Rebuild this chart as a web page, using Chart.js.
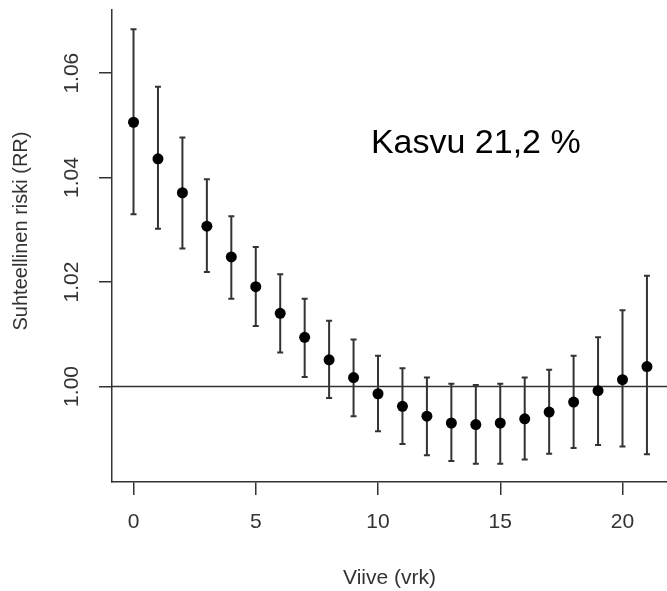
<!DOCTYPE html>
<html>
<head>
<meta charset="utf-8">
<script src="https://cdn.jsdelivr.net/npm/chart.js@4"></script>
<style>
  body { margin: 0; background: #fff; }
</style>
</head>
<body>
<canvas id="rr" width="667" height="591"></canvas>
<script>
// lag (days) and relative risk with 95% limits
const lags = [0, 1, 2, 3, 4, 5, 6, 7, 8, 9, 10, 11, 12, 13, 14, 15, 16, 17, 18, 19, 20, 21];
const rr = [1.0506, 1.0436, 1.0371, 1.0307, 1.0248, 1.0191, 1.0140, 1.0094, 1.0051, 1.0017, 0.9986,
  0.9962, 0.9943, 0.9930, 0.9927, 0.9930, 0.9938, 0.9951, 0.9970, 0.9992, 1.0013, 1.0038];
const rrLow = [1.0330, 1.0302, 1.0264, 1.0219, 1.0168, 1.0116, 1.0065, 1.0018, 0.9978, 0.9943, 0.9914,
  0.9890, 0.9868, 0.9857, 0.9852, 0.9852, 0.9860, 0.9871, 0.9882, 0.9888, 0.9885, 0.9870];
const rrHigh = [1.0684, 1.0574, 1.0477, 1.0397, 1.0326, 1.0267, 1.0215, 1.0168, 1.0126, 1.0090, 1.0059,
  1.0035, 1.0017, 1.0005, 1.0003, 1.0005, 1.0017, 1.0032, 1.0059, 1.0094, 1.0146, 1.0212];

const xTicks = [0, 5, 10, 15, 20];
const yTicks = [1.00, 1.02, 1.04, 1.06];
const xRange = [-0.88, 21.82];
const yRange = [0.9817, 1.0721];
const refLevel = 1.0;
const note = { text: 'Kasvu 21,2 %', x: 14.0, y: 1.0466 };

const FONT = "'Liberation Sans', Arial, sans-serif";
const INK = '#333';

// vertical CI bars with little caps
const errorBars = {
  id: 'errorBars',
  beforeDatasetsDraw(chart) {
    const { ctx, scales: { x, y } } = chart;
    ctx.save();
    ctx.strokeStyle = INK;
    ctx.lineWidth = 2;
    lags.forEach((lag, i) => {
      const px = x.getPixelForValue(lag);
      const top = y.getPixelForValue(rrHigh[i]);
      const bot = y.getPixelForValue(rrLow[i]);
      ctx.beginPath();
      ctx.moveTo(px, top); ctx.lineTo(px, bot);
      ctx.moveTo(px - 3, top); ctx.lineTo(px + 3, top);
      ctx.moveTo(px - 3, bot); ctx.lineTo(px + 3, bot);
      ctx.stroke();
    });
    ctx.restore();
  }
};

// y axis title and the note text
const labels = {
  id: 'labels',
  afterDraw(chart) {
    const { ctx, scales: { x, y } } = chart;
    ctx.save();
    ctx.fillStyle = INK;
    ctx.font = '20px ' + FONT;
    ctx.textAlign = 'center';
    ctx.textBaseline = 'middle';
    ctx.translate(21, 231);
    ctx.rotate(-Math.PI / 2);
    ctx.fillText('Suhteellinen riski (RR)', 0, 0);
    ctx.restore();

    ctx.save();
    ctx.fillStyle = '#000';
    ctx.font = '34px ' + FONT;
    ctx.textAlign = 'center';
    ctx.textBaseline = 'middle';
    ctx.fillText(note.text, x.getPixelForValue(note.x), y.getPixelForValue(note.y));
    ctx.restore();
  }
};

const axisBase = {
  type: 'linear',
  grid: { drawOnChartArea: false, drawTicks: true, tickLength: 13, color: INK, lineWidth: 1.5 },
  border: { display: true, color: INK, width: 1.5 }
};

new Chart(document.getElementById('rr'), {
  type: 'scatter',
  data: {
    datasets: [
      {
        data: lags.map((l, i) => ({ x: l, y: rr[i] })),
        pointStyle: 'circle',
        pointRadius: 5.5,
        pointBackgroundColor: '#000',
        pointBorderWidth: 0,
        order: 0
      },
      {
        type: 'line',
        data: [{ x: xRange[0], y: refLevel }, { x: xRange[1], y: refLevel }],
        borderColor: INK,
        borderWidth: 1.5,
        pointRadius: 0,
        order: 1
      }
    ]
  },
  options: {
    responsive: false,
    animation: false,
    events: [],
    layout: { autoPadding: false, padding: { top: 10, left: 0, right: 0, bottom: 0 } },
    plugins: { legend: { display: false }, tooltip: { enabled: false } },
    scales: {
      x: {
        ...axisBase,
        min: xRange[0],
        max: xRange[1],
        afterBuildTicks: (s) => { s.ticks = xTicks.map(v => ({ value: v })); },
        afterFit: (s) => { s.height = 109; s.paddingLeft = 0; s.paddingRight = 0; },
        ticks: { autoSkip: false, padding: 15, color: INK, font: { family: FONT, size: 21 }, callback: (v) => String(v) },
        title: { display: true, text: 'Viive (vrk)', color: INK, font: { family: FONT, size: 21 }, padding: 0 }
      },
      y: {
        ...axisBase,
        min: yRange[0],
        max: yRange[1],
        afterBuildTicks: (s) => { s.ticks = yTicks.map(v => ({ value: v })); },
        afterFit: (s) => { s.width = 112; s.paddingTop = 0; s.paddingBottom = 0; },
        ticks: {
          autoSkip: false, padding: 6, minRotation: 90, maxRotation: 90, crossAlign: 'center',
          color: INK, font: { family: FONT, size: 21 }, callback: (v) => v.toFixed(2)
        }
      }
    }
  },
  plugins: [errorBars, labels]
});
</script>
</body>
</html>
